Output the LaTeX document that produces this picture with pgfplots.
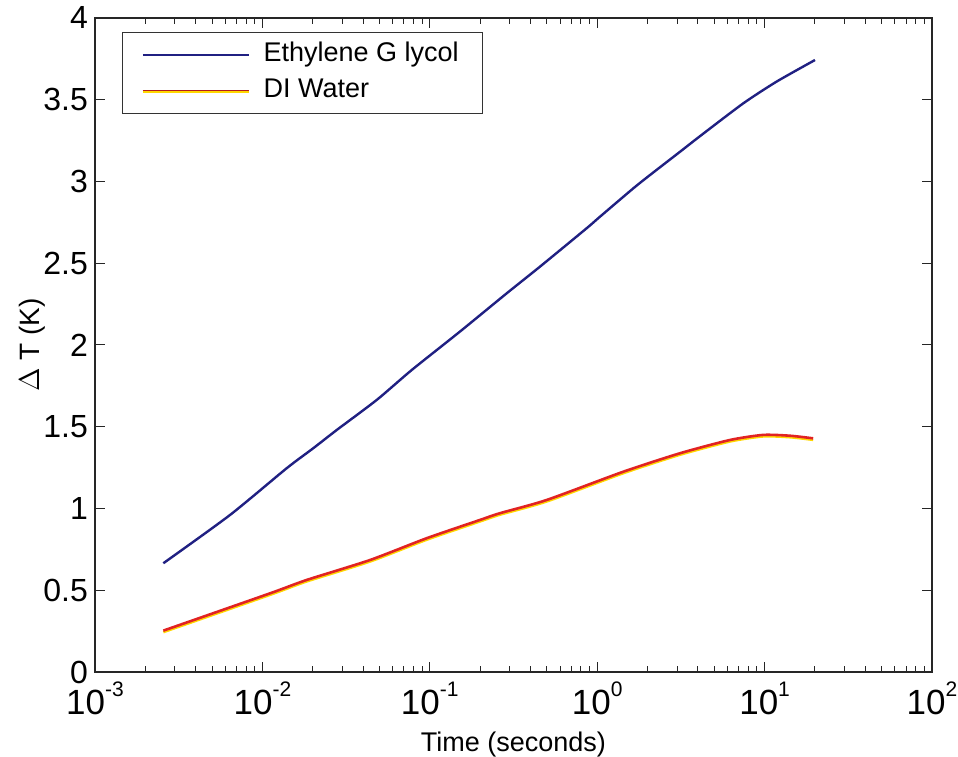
\documentclass[border=0pt]{standalone}
\usepackage{fontspec}
\setmainfont{Liberation Sans}
\usepackage{pgfplots}
\pgfplotsset{compat=1.18}
\usetikzlibrary{calc}
\definecolor{egblue}{RGB}{32,32,130}
\definecolor{wred}{RGB}{225,35,35}
\definecolor{wyellow}{RGB}{255,215,0}
\newcommand{\tl}[1]{10\raisebox{9pt}{\fontsize{10.5}{10.5}\selectfont #1}}
\begin{document}
\begin{tikzpicture}
\begin{axis}[
  name=ax,
  scale only axis,
  width=418.5pt, height=327pt,
  xmode=log,
  xmin=1e-3, xmax=1e2,
  ymin=0, ymax=4,
  axis line style={black!85, line width=0.6pt},
  every tick/.style={black!85, line width=0.5pt},
  major tick length=5pt,
  minor tick length=3pt,
  xtick={1e-3,1e-2,1e-1,1,1e1,1e2},
  xticklabels={\tl{-3},\tl{-2},\tl{-1},\tl{0},\tl{1},\tl{2}},
  xticklabel style={font=\fontsize{17.5}{17.5}\selectfont, anchor=base, yshift=-21.5pt},
  ytick={0,0.5,1,1.5,2,2.5,3,3.5,4},
  yticklabels={0,0.5,1,1.5,2,2.5,3,3.5,4},
  yticklabel style={font=\fontsize{16}{16}\selectfont},
  every axis y label/.style={at={(axis description cs:-0.0753,0.5)}, rotate=90, anchor=center},
  every axis x label/.style={at={(axis description cs:0.5,-0.121)}, anchor=base},
  ylabel={$\Delta$ T (K)},
  xlabel={Time (seconds)},
  label style={font=\fontsize{13.5}{13.5}\selectfont},
  ylabel style={font=\fontsize{14}{14}\selectfont},
  legend style={at={(0.032,0.9786)}, anchor=north west, draw=black!80, line width=0.5pt,
    font=\fontsize{13.5}{16}\selectfont, inner xsep=10pt, inner ysep=2.25pt,
    column sep=5pt,
    nodes={inner xsep=2pt, inner ysep=2.5pt, text height=10pt, text depth=3pt}},
  legend cell align=left,
]
\addplot[egblue, line width=1.2pt, smooth, tension=0.4,
  legend image code/.code={\draw[egblue, line width=0.6pt] (0pt,0pt) -- (53pt,0pt);}]
coordinates {
(0.00256,0.665)
(0.0064,0.960)
(0.01396,1.246)
(0.0201,1.368)
(0.0278,1.480)
(0.0482,1.664)
(0.0780,1.847)
(0.151,2.081)
(0.288,2.316)
(0.455,2.479)
(0.865,2.714)
(1.04,2.785)
(1.643,2.958)
(2.07,3.040)
(3.126,3.182)
(4.11,3.277)
(7.46,3.478)
(11.8,3.611)
(20.0,3.743)
};
\addlegendentry{Ethylene G lycol}
\addplot[wyellow, line width=1.2pt, yshift=-0.8pt, smooth, tension=0.4, forget plot]
coordinates {
(0.00256,0.253)
(0.0111,0.481)
(0.0184,0.563)
(0.0440,0.685)
(0.0957,0.818)
(0.1995,0.930)
(0.262,0.971)
(0.499,1.052)
(1.432,1.225)
(3.126,1.338)
(6.21,1.419)
(9.82,1.450)
(14.2,1.445)
(19.5,1.429)
};
\addplot[wred, line width=1.3pt, smooth, tension=0.4,
  legend image code/.code={\draw[wyellow, line width=0.7pt] (0pt,-0.5pt) -- (53pt,-0.5pt);
                           \draw[wred!80!black, line width=0.5pt] (0pt,0pt) -- (53pt,0pt);}]
coordinates {
(0.00256,0.253)
(0.0111,0.481)
(0.0184,0.563)
(0.0440,0.685)
(0.0957,0.818)
(0.1995,0.930)
(0.262,0.971)
(0.499,1.052)
(1.432,1.225)
(3.126,1.338)
(6.21,1.419)
(9.82,1.450)
(14.2,1.445)
(19.5,1.429)
};
\addlegendentry{DI Water}
\end{axis}
\pgfresetboundingbox
\path[use as bounding box] ($(ax.south west)+(-47.5pt,-42.5pt)$) rectangle ($(ax.north east)+(13pt,9pt)$);
\end{tikzpicture}
\end{document}
